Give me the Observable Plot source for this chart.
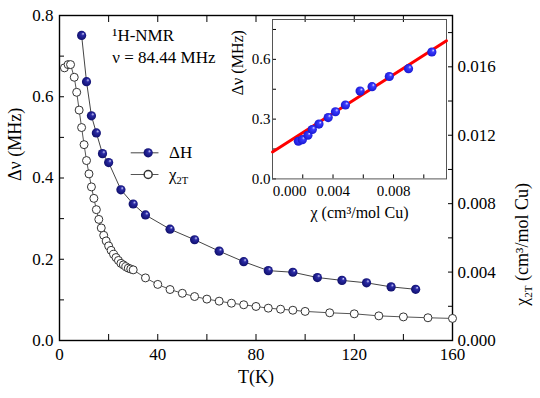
<!DOCTYPE html>
<html><head><meta charset="utf-8">
<script src="https://cdn.jsdelivr.net/npm/d3@7"></script>
<script src="https://cdn.jsdelivr.net/npm/@observablehq/plot@0.6"></script>
<style>
body{margin:0;background:#fff;}
#wrap{position:relative;width:540px;height:398px;}
</style></head><body><div id="wrap"></div>
<script>
// ---- data ----
const dhT   = [9,11,13,15,17.5,20,25,30,35,45,55,65,75,85,95,105,115,125,135,145];
const dhVal = [0.751,0.637,0.553,0.511,0.460,0.438,0.371,0.336,0.309,0.274,0.248,0.220,0.194,0.172,0.168,0.155,0.148,0.142,0.132,0.126];
const chiT   = [2,3.5,4.5,6,7,8,9,10,11,12,13,14,15,16,17,18,19,20,21,22,23,24,25,26,27,28,29,30,
                35,40,45,50,55,60,65,70,75,80,85,90,95,100,110,120,130,140,150,160];
const chiVal = [0.01594,0.01613,0.01613,0.01539,0.01451,0.01347,0.01245,0.01145,
                0.01052,0.00974,0.00898,0.00831,0.00765,0.00708,0.00658,0.00615,0.00582,0.00553,
                0.00527,0.00504,0.00485,0.00468,0.00451,0.00442,0.00432,0.00423,0.00418,0.00413,
                0.00366,0.00328,0.00298,0.00276,0.00257,0.00242,0.00230,0.00218,0.00209,0.00199,
                0.00189,0.00183,0.00177,0.00170,0.00162,0.00156,0.00144,0.00138,0.00133,0.00129];
const insetChi = [0.00171,0.00197,0.00234,0.00263,0.00307,0.00368,0.00416,0.00482,0.00579,0.00658,0.00772,0.00899,0.01053];
const insetDv  = [0.189,0.197,0.219,0.248,0.275,0.308,0.337,0.371,0.441,0.463,0.514,0.553,0.637];
const fitChi = [0, 0.0115];
const fitDv  = [0.135, 0.693];
const xTicksMajor = [0,40,80,120,160];
const xTicksMinor = [20,60,100,140];
const yTicksMajor = [0,0.2,0.4,0.6,0.8];
const yTicksMinor = [0.1,0.3,0.5,0.7];
const chiTicksMajor = [0,0.004,0.008,0.012,0.016];
const chiTicksMinor = [0.002,0.006,0.010,0.014,0.018];
const insetYTicks = [0,0.3,0.6];
const insetYMinor = [0.15,0.45,0.75];
const insetXTicks = [0.004,0.008];
const insetXMinor = [0.002,0.006,0.010];
const legendLabels = ["ΔH","χ2T"];

// ---- tables ----
const chiMax = 0.019, dvMax = 0.8, k = dvMax / chiMax;
const dh = dhT.map((t,i)=>({T:t, v:dhVal[i]}));
const chi = chiT.map((t,i)=>({T:t, c:chiVal[i]}));
const ins = insetChi.map((c,i)=>({c, v:insetDv[i]}));
const fit = fitChi.map((c,i)=>({c, v:fitDv[i]}));
const serif = "Liberation Serif";

const main = Plot.plot({
  width:540, height:398, marginLeft:59, marginRight:88, marginTop:15, marginBottom:58,
  style:{fontFamily:serif, fontSize:"17px", color:"#000", background:"white"},
  x:{domain:[0,160]}, y:{domain:[0,dvMax]},
  marks:[
    Plot.axisX({ticks:xTicksMajor, tickSize:-6, tickPadding:13, tickFormat:d=>String(d), label:null}),
    Plot.axisX({ticks:xTicksMinor, tickSize:-6, tickFormat:()=>"", label:null}),
    Plot.axisX({anchor:"top", ticks:[...xTicksMajor,...xTicksMinor], tickSize:-6, tickFormat:()=>"", label:null}),
    Plot.axisY({ticks:yTicksMajor, tickSize:-5, tickPadding:11, tickFormat:d=>d.toFixed(1), label:null}),
    Plot.axisY({ticks:yTicksMinor, tickSize:-5, tickFormat:()=>"", label:null}),
    Plot.axisY({anchor:"right", ticks:chiTicksMajor.map(c=>c*k), tickSize:-5, tickPadding:10,
                tickFormat:d=>(d/k).toFixed(3), label:null}),
    Plot.axisY({anchor:"right", ticks:chiTicksMinor.map(c=>c*k), tickSize:-5, tickFormat:()=>"", label:null}),
    Plot.frame({stroke:"#000", strokeWidth:1.4}),
    Plot.line(chi, {x:"T", y:d=>d.c*k, stroke:"#555", strokeWidth:1}),
    Plot.dot(chi, {x:"T", y:d=>d.c*k, r:4, fill:"white", stroke:"#333", strokeWidth:1}),
    Plot.line(dh, {x:"T", y:"v", stroke:"#444", strokeWidth:1}),
    Plot.dot(dh, {x:"T", y:"v", r:4.6, fill:"url(#gNavy)", stroke:"none"}),
    // legend
    Plot.ruleY([0.462], {x1:29.2, x2:40.5, stroke:"#444", strokeWidth:1}),
    Plot.ruleY([0.4086], {x1:29.2, x2:40.5, stroke:"#555", strokeWidth:1}),
    Plot.dot([legendLabels[0]], {x:()=>36.1, y:()=>0.462, r:4.6, fill:"url(#gNavy)"}),
    Plot.dot([legendLabels[1]], {x:()=>36.1, y:()=>0.4086, r:4, fill:"white", stroke:"#333"}),
    Plot.text(legendLabels, {x:()=>44.6, y:(d,i)=>i===0?0.462:0.4086, text:d=>d, textAnchor:"start", fontSize:17}),
    // annotation
    Plot.text(["¹H-NMR"], {x:()=>21.5, y:()=>0.751, text:d=>d, textAnchor:"start", fontSize:17}),
    Plot.text(["ν = 84.44 MHz"], {x:()=>21.5, y:()=>0.697, text:d=>d, textAnchor:"start", fontSize:17}),
    // axis titles
    Plot.text(["Δν (MHz)"], {frameAnchor:"left", text:d=>d, rotate:-90, dx:-44, dy:3, fontSize:18}),
    Plot.text(["T(K)"], {frameAnchor:"bottom", text:d=>d, dy:42, fontSize:18}),
    Plot.text(["χ2T (cm³/mol Cu)"], {frameAnchor:"right", text:d=>d, rotate:-90, dx:70, dy:5, fontSize:18})
  ]
});

const inset = Plot.plot({
  width:240, height:230, marginLeft:52, marginRight:14, marginTop:19, marginBottom:51.6,
  style:{fontFamily:serif, fontSize:"15px", color:"#000", background:"none"},
  x:{domain:[0,0.0115]}, y:{domain:[0,dvMax]},
  marks:[
    Plot.axisY({ticks:insetYTicks, tickSize:-4, tickPadding:6, tickFormat:d=>d.toFixed(1), label:null}),
    Plot.axisY({ticks:insetYMinor, tickSize:-4, tickFormat:()=>"", label:null}),
    Plot.axisX({ticks:insetXTicks, tickSize:-4, tickPadding:10.5, tickFormat:d=>d.toFixed(3), label:null}),
    Plot.axisX({ticks:[0], tickSize:0, tickPadding:6.5, dx:17, tickFormat:d=>d.toFixed(3), label:null}),
    Plot.axisX({ticks:insetXMinor, tickSize:-4, tickFormat:()=>"", label:null}),
    Plot.frame({stroke:"#555", strokeWidth:1}),
    Plot.line(fit, {x:"c", y:"v", stroke:"#ff0000", strokeWidth:3}),
    Plot.dot(ins, {x:"c", y:"v", r:4.6, fill:"url(#gBlue)"}),
    Plot.text(["Δν (MHz)"], {frameAnchor:"left", text:d=>d, rotate:-90, dx:-35, dy:-4, fontSize:16}),
    Plot.text(["χ (cm³/mol Cu)"], {frameAnchor:"bottom", text:d=>d, dy:39, fontSize:16})
  ]
});

function addGrad(svg, id, c0, c1, c2){
  const defs = d3.select(svg).insert("defs", ":first-child");
  const g = defs.append("radialGradient").attr("id", id)
    .attr("cx","50%").attr("cy","50%").attr("r","55%").attr("fx","68%").attr("fy","30%");
  g.append("stop").attr("offset","0%").attr("stop-color",c0);
  g.append("stop").attr("offset","30%").attr("stop-color",c1);
  g.append("stop").attr("offset","100%").attr("stop-color",c2);
}
addGrad(main, "gNavy", "#d8d8ff", "#2b2ba5", "#0c0c66");
addGrad(inset, "gBlue", "#e6e6ff", "#3a3aff", "#1515cc");

// subscript "2T" in χ2T labels
function subscriptChi(svg){
  d3.select(svg).selectAll("text").each(function(){
    const t = this.textContent;
    if (t.startsWith("χ2T")) {
      const rest = t.slice(3);
      const sel = d3.select(this);
      sel.text("");
      sel.append("tspan").text("χ");
      sel.append("tspan").attr("font-size","0.62em").attr("dy","0.35em").text("2T");
      if (rest) sel.append("tspan").attr("dy","-0.22em").text(rest);
    }
  });
}
subscriptChi(main);

// move the inset's content into a translated group of the main SVG
const g = d3.select(main).append("g")
  .attr("transform", "translate(220,0)")
  .attr("fill", "#000").attr("text-anchor", "middle").attr("font-size", 15);
while (inset.firstChild) g.node().appendChild(inset.firstChild);

document.getElementById("wrap").appendChild(main);
</script></body></html>
